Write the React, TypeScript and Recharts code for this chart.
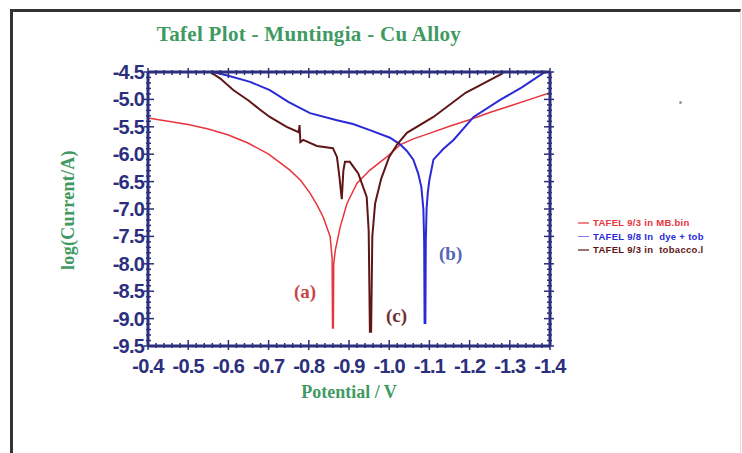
import React from 'react';
import { LineChart, Line, XAxis, YAxis } from 'recharts';

// potentials (V) and log(current / A)
const potentialA = [-0.4, -0.45, -0.5, -0.55, -0.6, -0.65, -0.7, -0.753, -0.78, -0.803, -0.82, -0.836, -0.853, -0.858, -0.859, -0.861, -0.862, -0.866, -0.878, -0.895, -0.92, -0.952, -0.994, -1.027, -1.06, -1.1, -1.15, -1.2, -1.25, -1.3, -1.35, -1.4];
const logA = [-5.34, -5.4, -5.46, -5.54, -5.65, -5.8, -6.0, -6.29, -6.48, -6.71, -6.92, -7.15, -7.5, -7.9, -9.17, -9.17, -8.0, -7.75, -7.33, -6.9, -6.53, -6.29, -6.05, -5.83, -5.72, -5.62, -5.49, -5.37, -5.24, -5.12, -5.0, -4.88];

const potentialB = [-0.562, -0.6, -0.654, -0.703, -0.75, -0.803, -0.87, -0.91, -0.952, -1.002, -1.027, -1.044, -1.06, -1.072, -1.08, -1.085, -1.087, -1.088, -1.09, -1.091, -1.093, -1.096, -1.1, -1.11, -1.135, -1.16, -1.21, -1.276, -1.33, -1.383, -1.39];
const logB = [-4.5, -4.57, -4.68, -4.83, -5.05, -5.25, -5.38, -5.45, -5.56, -5.7, -5.82, -5.94, -6.1, -6.35, -6.6, -7.0, -7.6, -9.08, -9.08, -7.6, -7.0, -6.7, -6.47, -6.1, -5.9, -5.74, -5.32, -5.01, -4.78, -4.52, -4.5];

const potentialC = [-0.555, -0.58, -0.612, -0.65, -0.679, -0.703, -0.745, -0.775, -0.777, -0.779, -0.786, -0.82, -0.86, -0.87, -0.876, -0.882, -0.886, -0.89, -0.902, -0.923, -0.944, -0.949, -0.952, -0.955, -0.958, -0.965, -0.98, -1.0, -1.02, -1.044, -1.11, -1.19, -1.276, -1.285];
const logC = [-4.5, -4.62, -4.83, -5.02, -5.19, -5.32, -5.5, -5.6, -5.47, -5.78, -5.74, -5.85, -5.89, -6.05, -6.4, -6.82, -6.3, -6.14, -6.14, -6.35, -6.78, -7.4, -9.24, -9.24, -7.5, -6.9, -6.45, -6.05, -5.82, -5.61, -5.32, -4.88, -4.55, -4.5];

const xMajor = [-0.4, -0.5, -0.6, -0.7, -0.8, -0.9, -1.0, -1.1, -1.2, -1.3, -1.4];
const yMajor = [-4.5, -5.0, -5.5, -6.0, -6.5, -7.0, -7.5, -8.0, -8.5, -9.0, -9.5];

const seriesNames = ['TAFEL 9/3 in MB.bin', 'TAFEL 9/8 In  dye + tob', 'TAFEL 9/3 in  tobacco.l'];
const seriesColors = ['#e8343c', '#2a2ad6', '#5e1616'];

const toPoints = (xs: number[], ys: number[]) => xs.map((v, i) => ({ v, y: ys[i] }));

const xTicks: number[] = [];
for (let i = 0; i <= 50; i++) xTicks.push(Math.round((-0.4 - i * 0.02) * 1000) / 1000);
const yTicks: number[] = [];
for (let i = 0; i <= 50; i++) yTicks.push(Math.round((-4.5 - i * 0.1) * 100) / 100);

const isMajor = (v: number, list: number[]) => list.some(m => Math.abs(m - v) < 1e-6);

const AXIS = '#2c2f7c';
const GREEN = '#3f9a62';

const XTick = (props: any) => {
  const { x, y, payload, side } = props;
  const major = isMajor(payload.value, xMajor);
  const s = side === 'top' ? -1 : 1;
  return (
    <g>
      <line x1={x} x2={x} y1={y - s * (major ? 6 : 3)} y2={y + s * (major ? 4 : 2)} stroke={AXIS} strokeWidth={1.5} />
      {major && side !== 'top' && (
        <text x={x} y={y + 27} textAnchor="middle" fill={AXIS} fontSize={20} fontWeight="bold" letterSpacing={-0.8} fontFamily="Liberation Sans, Arial, sans-serif">
          {payload.value.toFixed(1)}
        </text>
      )}
    </g>
  );
};

const YTick = (props: any) => {
  const { x, y, payload, side } = props;
  const major = isMajor(payload.value, yMajor);
  const s = side === 'right' ? -1 : 1;
  return (
    <g>
      <line x1={x - s * (major ? 4 : 2)} x2={x + s * (major ? 6 : 3)} y1={y} y2={y} stroke={AXIS} strokeWidth={1.5} />
      {major && side !== 'right' && (
        <text x={x - 4} y={y + 7} textAnchor="end" fill={AXIS} fontSize={20} fontWeight="bold" letterSpacing={-0.8} fontFamily="Liberation Sans, Arial, sans-serif">
          {payload.value.toFixed(1)}
        </text>
      )}
    </g>
  );
};

const serif = 'Liberation Serif, Times New Roman, serif';

export default function App() {
  return (
    <div style={{ position: 'absolute', left: 0, top: 0, width: 742, height: 453, background: '#fff', overflow: 'hidden' }}>
      <div style={{ position: 'absolute', left: 10, top: 9, width: 727, height: 470, borderLeft: '3px solid #333', borderTop: '3px solid #333', borderRight: '1px solid #ddd' }} />
      <LineChart width={742} height={453} margin={{ top: 71, right: 191, bottom: 106, left: 147 }} style={{ position: 'absolute', left: 0, top: 0 }}>
        <XAxis xAxisId="b" dataKey="v" type="number" domain={[-1.4, -0.4]} reversed ticks={xTicks} interval={0} height={1} tickSize={0} tickMargin={0} tick={<XTick side="bottom" />} axisLine={{ stroke: AXIS, strokeWidth: 3 }} allowDataOverflow />
        <XAxis xAxisId="t" orientation="top" dataKey="v" type="number" domain={[-1.4, -0.4]} reversed ticks={xTicks} interval={0} height={1} tickSize={0} tickMargin={0} tick={<XTick side="top" />} axisLine={{ stroke: AXIS, strokeWidth: 3 }} allowDataOverflow />
        <YAxis yAxisId="l" dataKey="y" type="number" domain={[-9.5, -4.5]} ticks={yTicks} interval={0} width={1} tickSize={0} tickMargin={0} tick={<YTick side="left" />} axisLine={{ stroke: AXIS, strokeWidth: 3 }} allowDataOverflow />
        <YAxis yAxisId="r" orientation="right" dataKey="y" type="number" domain={[-9.5, -4.5]} ticks={yTicks} interval={0} width={1} tickSize={0} tickMargin={0} tick={<YTick side="right" />} axisLine={{ stroke: AXIS, strokeWidth: 3 }} allowDataOverflow />
        <Line xAxisId="b" yAxisId="l" data={toPoints(potentialA, logA)} dataKey="y" type="linear" stroke={seriesColors[0]} strokeWidth={1.5} dot={false} isAnimationActive={false} />
        <Line xAxisId="b" yAxisId="l" data={toPoints(potentialB, logB)} dataKey="y" type="linear" stroke={seriesColors[1]} strokeWidth={2} dot={false} isAnimationActive={false} />
        <Line xAxisId="b" yAxisId="l" data={toPoints(potentialC, logC)} dataKey="y" type="linear" stroke={seriesColors[2]} strokeWidth={2} dot={false} isAnimationActive={false} />
        <Line xAxisId="t" yAxisId="r" data={toPoints(potentialA, logA)} dataKey="y" stroke="none" dot={false} isAnimationActive={false} />
      </LineChart>

      <div style={{ position: 'absolute', left: 109, top: 22, width: 400, textAlign: 'center', color: GREEN, fontFamily: serif, fontWeight: 'bold', fontSize: 21, letterSpacing: 0.3 }}>
        Tafel Plot - Muntingia - Cu Alloy
      </div>
      <div style={{ position: 'absolute', left: 68, top: 210, transform: 'translate(-50%, -50%) rotate(-90deg)', whiteSpace: 'nowrap', color: GREEN, fontFamily: serif, fontWeight: 'bold', fontSize: 18, letterSpacing: 0.3 }}>
        log(Current/A)
      </div>
      <div style={{ position: 'absolute', left: 249, top: 382, width: 200, textAlign: 'center', color: GREEN, fontFamily: serif, fontWeight: 'bold', fontSize: 18 }}>
        Potential / V
      </div>

      <div style={{ position: 'absolute', left: 294, top: 281, color: '#c8454a', fontFamily: serif, fontWeight: 'bold', fontSize: 19 }}>(a)</div>
      <div style={{ position: 'absolute', left: 439, top: 243, color: '#5566b8', fontFamily: serif, fontWeight: 'bold', fontSize: 19 }}>(b)</div>
      <div style={{ position: 'absolute', left: 386, top: 305, color: '#6e3030', fontFamily: serif, fontWeight: 'bold', fontSize: 19 }}>(c)</div>

      <div style={{ position: 'absolute', left: 578, top: 216 }}>
        {seriesNames.map((n, i) => (
          <div key={n} style={{ display: 'flex', alignItems: 'center', height: 13.5, fontFamily: 'Liberation Sans, Arial, sans-serif', fontWeight: 'bold', fontSize: 9.5, letterSpacing: 0.3, color: seriesColors[i], whiteSpace: 'pre' }}>
            <span style={{ display: 'inline-block', width: 11, height: 1.5, background: seriesColors[i], opacity: 0.6, marginRight: 4 }} />
            {n}
          </div>
        ))}
      </div>
      <div style={{ position: 'absolute', left: 679, top: 101, width: 3, height: 3, borderRadius: 2, background: '#999' }} />
    </div>
  );
}
